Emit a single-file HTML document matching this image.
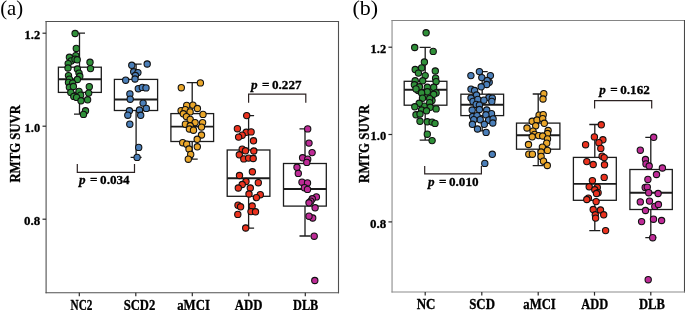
<!DOCTYPE html><html><head><meta charset="utf-8"><title>RMTG SUVR</title>
<style>html,body{margin:0;padding:0;background:#fff}svg{display:block}text{font-family:"Liberation Serif","Times New Roman",serif;fill:#000}.b{font-weight:bold;stroke:#000;stroke-width:0.3px}</style></head><body>
<svg width="685" height="310" viewBox="0 0 685 310">
<rect width="685" height="310" fill="#fff"/>
<g id="panel-a">
<g stroke-width="1.1" stroke-linecap="square"><line x1="46.1" y1="21.5" x2="46.1" y2="292.7" stroke="#505050"/><line x1="46.1" y1="21.5" x2="338.5" y2="21.5" stroke="#505050"/><line x1="338.5" y1="21.5" x2="338.5" y2="292.7" stroke="#505050"/><line x1="46.1" y1="292.7" x2="338.5" y2="292.7" stroke="#505050"/></g>
<line x1="42.5" x2="46.1" y1="33.2" y2="33.2" stroke="#2a2a2a" stroke-width="1.2"/>
<text class="b" x="24.6" y="38.85" font-size="13.4" textLength="15.6" lengthAdjust="spacingAndGlyphs">1.2</text>
<line x1="42.5" x2="46.1" y1="126.2" y2="126.2" stroke="#2a2a2a" stroke-width="1.2"/>
<text class="b" x="24.6" y="131.85" font-size="13.4" textLength="15.6" lengthAdjust="spacingAndGlyphs">1.0</text>
<line x1="42.5" x2="46.1" y1="219.2" y2="219.2" stroke="#2a2a2a" stroke-width="1.2"/>
<text class="b" x="24.0" y="224.85" font-size="13.4" textLength="16.2" lengthAdjust="spacingAndGlyphs">0.8</text>
<line x1="79.3" x2="79.3" y1="292.7" y2="296.3" stroke="#2a2a2a" stroke-width="1.2"/>
<text class="b" x="70.6" y="310.1" font-size="13.9" textLength="21.8" lengthAdjust="spacingAndGlyphs">NC2</text>
<line x1="135.8" x2="135.8" y1="292.7" y2="296.3" stroke="#2a2a2a" stroke-width="1.2"/>
<text class="b" x="123.7" y="310.1" font-size="13.9" textLength="31.6" lengthAdjust="spacingAndGlyphs">SCD2</text>
<line x1="192.3" x2="192.3" y1="292.7" y2="296.3" stroke="#2a2a2a" stroke-width="1.2"/>
<text class="b" x="177.2" y="310.1" font-size="13.9" textLength="32.7" lengthAdjust="spacingAndGlyphs">aMCI</text>
<line x1="248.8" x2="248.8" y1="292.7" y2="296.3" stroke="#2a2a2a" stroke-width="1.2"/>
<text class="b" x="234.8" y="310.1" font-size="13.9" textLength="27.7" lengthAdjust="spacingAndGlyphs">ADD</text>
<line x1="305.3" x2="305.3" y1="292.7" y2="296.3" stroke="#2a2a2a" stroke-width="1.2"/>
<text class="b" x="293.1" y="310.1" font-size="13.9" textLength="25.2" lengthAdjust="spacingAndGlyphs">DLB</text>
<text class="b" transform="translate(19.8,182.6) rotate(-90)" font-size="13.7" textLength="77.6" lengthAdjust="spacingAndGlyphs">RMTG SUVR</text>
<text x="0.2" y="14.6" font-size="22" textLength="23.0" lengthAdjust="spacingAndGlyphs">(a)</text>
<g stroke="#1c1c1c" stroke-width="1.3" fill="none">
<path d="M79.5 33.1V67.2M79.5 92.4V114.2M74.0 33.1H85.0M74.0 114.2H85.0"/>
<rect x="58.4" y="67.2" width="42.9" height="25.2" fill="#fff"/>
<line x1="58.4" x2="101.3" y1="79.2" y2="79.2" stroke-width="1.9"/>
</g>
<g fill="#2F9039" stroke="#111" stroke-width="1.1">
<circle cx="75.1" cy="33.5" r="3.15"/><circle cx="76.3" cy="48.4" r="3.15"/><circle cx="75.8" cy="55.6" r="3.15"/><circle cx="69.4" cy="57.3" r="3.15"/><circle cx="71.2" cy="60.9" r="3.15"/><circle cx="75" cy="59.2" r="3.15"/><circle cx="77.2" cy="59.8" r="3.15"/><circle cx="90" cy="62.3" r="3.15"/><circle cx="68.2" cy="63.6" r="3.15"/><circle cx="90.5" cy="68.6" r="3.15"/><circle cx="68" cy="68" r="3.15"/><circle cx="77.4" cy="69" r="3.15"/><circle cx="79" cy="73.1" r="3.15"/><circle cx="68.5" cy="75.6" r="3.15"/><circle cx="79.8" cy="76.3" r="3.15"/><circle cx="77.4" cy="79.5" r="3.15"/><circle cx="69.4" cy="79.2" r="3.15"/><circle cx="68.5" cy="82.4" r="3.15"/><circle cx="72.6" cy="83.2" r="3.15"/><circle cx="69.4" cy="87.3" r="3.15"/><circle cx="73.4" cy="86.5" r="3.15"/><circle cx="89.3" cy="86.7" r="3.15"/><circle cx="79" cy="91.4" r="3.15"/><circle cx="70.8" cy="92.4" r="3.15"/><circle cx="88.7" cy="93.1" r="3.15"/><circle cx="73.8" cy="96.4" r="3.15"/><circle cx="80.6" cy="95.2" r="3.15"/><circle cx="76.6" cy="97.4" r="3.15"/><circle cx="87.6" cy="99.8" r="3.15"/><circle cx="81" cy="100.8" r="3.15"/><circle cx="85.5" cy="110.8" r="3.15"/><circle cx="83.5" cy="114.4" r="3.15"/>
</g>
<g stroke="#1c1c1c" stroke-width="1.3" fill="none">
<path d="M136.1 64.2V79.4M136.1 110.5V157.4M130.6 64.2H141.6M130.6 157.4H141.6"/>
<rect x="114.4" y="79.4" width="43.2" height="31.1" fill="#fff"/>
<line x1="114.4" x2="157.6" y1="99.5" y2="99.5" stroke-width="1.9"/>
</g>
<g fill="#4B7FB9" stroke="#111" stroke-width="1.1">
<circle cx="131.8" cy="65.3" r="3.15"/><circle cx="147.2" cy="64" r="3.15"/><circle cx="133.7" cy="71.8" r="3.15"/><circle cx="137.9" cy="72.6" r="3.15"/><circle cx="135.4" cy="75.5" r="3.15"/><circle cx="135" cy="79" r="3.15"/><circle cx="125.7" cy="80.2" r="3.15"/><circle cx="138.3" cy="88.7" r="3.15"/><circle cx="142.3" cy="87.4" r="3.15"/><circle cx="146" cy="87.9" r="3.15"/><circle cx="129.9" cy="93.9" r="3.15"/><circle cx="130.2" cy="99.2" r="3.15"/><circle cx="143.1" cy="103.1" r="3.15"/><circle cx="146.3" cy="108.4" r="3.15"/><circle cx="139.5" cy="110" r="3.15"/><circle cx="129.4" cy="110.8" r="3.15"/><circle cx="127.8" cy="115.2" r="3.15"/><circle cx="140.7" cy="115.3" r="3.15"/><circle cx="129.8" cy="124.2" r="3.15"/><circle cx="138.7" cy="147.4" r="3.15"/><circle cx="137.1" cy="157.4" r="3.15"/>
</g>
<g stroke="#1c1c1c" stroke-width="1.3" fill="none">
<path d="M192.2 82.6V113.6M192.2 141.5V159.2M186.7 82.6H197.7M186.7 159.2H197.7"/>
<rect x="170.9" y="113.6" width="42.7" height="27.9" fill="#fff"/>
<line x1="170.9" x2="213.6" y1="126.6" y2="126.6" stroke-width="1.9"/>
</g>
<g fill="#EAA72B" stroke="#111" stroke-width="1.1">
<circle cx="200.4" cy="82.9" r="3.15"/><circle cx="181.3" cy="87.7" r="3.15"/><circle cx="186.7" cy="105.4" r="3.15"/><circle cx="192.9" cy="105.1" r="3.15"/><circle cx="197.4" cy="108.5" r="3.15"/><circle cx="181.1" cy="110.7" r="3.15"/><circle cx="185.2" cy="109.6" r="3.15"/><circle cx="190.1" cy="111.9" r="3.15"/><circle cx="203" cy="114.4" r="3.15"/><circle cx="183.3" cy="113.8" r="3.15"/><circle cx="186.4" cy="116.6" r="3.15"/><circle cx="190.2" cy="119.4" r="3.15"/><circle cx="195.1" cy="122.6" r="3.15"/><circle cx="202.6" cy="122.6" r="3.15"/><circle cx="185.4" cy="124.2" r="3.15"/><circle cx="190.2" cy="125.8" r="3.15"/><circle cx="201.5" cy="127.1" r="3.15"/><circle cx="189.4" cy="129" r="3.15"/><circle cx="193.5" cy="130.2" r="3.15"/><circle cx="201.5" cy="135" r="3.15"/><circle cx="197.2" cy="139.3" r="3.15"/><circle cx="182.7" cy="142.7" r="3.15"/><circle cx="186.7" cy="144.2" r="3.15"/><circle cx="197.3" cy="146.8" r="3.15"/><circle cx="189" cy="149" r="3.15"/><circle cx="190.7" cy="154.4" r="3.15"/><circle cx="188.3" cy="159.2" r="3.15"/>
</g>
<g stroke="#1c1c1c" stroke-width="1.3" fill="none">
<path d="M248.6 115.6V150M248.6 196.3V228.2M243.1 115.6H254.1M243.1 228.2H254.1"/>
<rect x="227.2" y="150" width="42.7" height="46.3" fill="#fff"/>
<line x1="227.2" x2="269.9" y1="178.2" y2="178.2" stroke-width="1.9"/>
</g>
<g fill="#EB321E" stroke="#111" stroke-width="1.1">
<circle cx="246.7" cy="115.6" r="3.15"/><circle cx="237.4" cy="128.7" r="3.15"/><circle cx="246.2" cy="132.3" r="3.15"/><circle cx="251.1" cy="131.9" r="3.15"/><circle cx="242.2" cy="135.2" r="3.15"/><circle cx="238.6" cy="137.1" r="3.15"/><circle cx="253.5" cy="140.8" r="3.15"/><circle cx="242.2" cy="149.2" r="3.15"/><circle cx="245.5" cy="150.8" r="3.15"/><circle cx="253.8" cy="151" r="3.15"/><circle cx="239.3" cy="154.8" r="3.15"/><circle cx="243.8" cy="158.9" r="3.15"/><circle cx="248.6" cy="158.1" r="3.15"/><circle cx="253.2" cy="158.5" r="3.15"/><circle cx="252.4" cy="171.8" r="3.15"/><circle cx="239.5" cy="175.5" r="3.15"/><circle cx="246" cy="181.5" r="3.15"/><circle cx="258.3" cy="182.7" r="3.15"/><circle cx="242.2" cy="184.5" r="3.15"/><circle cx="238.3" cy="188" r="3.15"/><circle cx="250.3" cy="188" r="3.15"/><circle cx="249" cy="194" r="3.15"/><circle cx="260.3" cy="194.7" r="3.15"/><circle cx="256.4" cy="197.6" r="3.15"/><circle cx="238" cy="205.2" r="3.15"/><circle cx="240.6" cy="206.8" r="3.15"/><circle cx="252.2" cy="206" r="3.15"/><circle cx="251" cy="211.6" r="3.15"/><circle cx="255.5" cy="211.8" r="3.15"/><circle cx="237.8" cy="214.4" r="3.15"/><circle cx="245.7" cy="228" r="3.15"/>
</g>
<g stroke="#1c1c1c" stroke-width="1.3" fill="none">
<path d="M305.0 128.8V163.5M305.0 206.1V236M299.5 128.8H310.5M299.5 236H310.5"/>
<rect x="283.5" y="163.5" width="42.8" height="42.6" fill="#fff"/>
<line x1="283.5" x2="326.3" y1="189" y2="189" stroke-width="1.9"/>
</g>
<g fill="#BE2B97" stroke="#111" stroke-width="1.1">
<circle cx="307.7" cy="128.9" r="3.15"/><circle cx="309" cy="143.1" r="3.15"/><circle cx="312.1" cy="152.6" r="3.15"/><circle cx="302.6" cy="157.8" r="3.15"/><circle cx="307.7" cy="159.2" r="3.15"/><circle cx="306.8" cy="162.4" r="3.15"/><circle cx="297" cy="167.3" r="3.15"/><circle cx="298.3" cy="173.4" r="3.15"/><circle cx="302" cy="182.2" r="3.15"/><circle cx="307.5" cy="182.9" r="3.15"/><circle cx="304.4" cy="187.7" r="3.15"/><circle cx="307.5" cy="189.4" r="3.15"/><circle cx="316.4" cy="196.9" r="3.15"/><circle cx="312.3" cy="198.8" r="3.15"/><circle cx="310.8" cy="201.2" r="3.15"/><circle cx="309" cy="202.8" r="3.15"/><circle cx="315.1" cy="207.8" r="3.15"/><circle cx="312.7" cy="218" r="3.15"/><circle cx="309" cy="216.2" r="3.15"/><circle cx="314.2" cy="236.2" r="3.15"/><circle cx="314.8" cy="280.5" r="3.15"/>
</g>
<path d="M77.3 164.0V172.3H134.5V164.0" fill="none" stroke="#2c2222" stroke-width="1.2"/>
<g transform="translate(78.6,183.7) scale(0.975,1)"><text class="b" font-size="13.5"><tspan x="0.51" y="0" font-style="italic">p</tspan><tspan x="11.79" y="0">=</tspan><tspan x="22.05" y="0">0.034</tspan></text></g>
<path d="M248.6 102.8V94.1H305.8V102.8" fill="none" stroke="#2c2222" stroke-width="1.2"/>
<g transform="translate(250.5,88.9) scale(0.975,1)"><text class="b" font-size="13.5"><tspan x="0.51" y="0" font-style="italic">p</tspan><tspan x="11.79" y="0">=</tspan><tspan x="22.05" y="0">0.227</tspan></text></g>
</g>
<g id="panel-b">
<g stroke-width="1.1" stroke-linecap="square"><line x1="392.05" y1="20.5" x2="392.05" y2="292.0" stroke="#8c8c8c"/><line x1="392.05" y1="20.5" x2="684.5" y2="20.5" stroke="#858585"/><line x1="684.5" y1="20.5" x2="684.5" y2="292.0" stroke="#484848"/><line x1="392.05" y1="292.0" x2="684.5" y2="292.0" stroke="#8c8c8c"/></g>
<line x1="388.4" x2="392.05" y1="47.2" y2="47.2" stroke="#2a2a2a" stroke-width="1.2"/>
<text class="b" x="370.6" y="52.85" font-size="13.4" textLength="15.6" lengthAdjust="spacingAndGlyphs">1.2</text>
<line x1="388.4" x2="392.05" y1="134.5" y2="134.5" stroke="#2a2a2a" stroke-width="1.2"/>
<text class="b" x="370.6" y="140.15" font-size="13.4" textLength="15.6" lengthAdjust="spacingAndGlyphs">1.0</text>
<line x1="388.4" x2="392.05" y1="221.9" y2="221.9" stroke="#2a2a2a" stroke-width="1.2"/>
<text class="b" x="370.0" y="227.55" font-size="13.4" textLength="16.2" lengthAdjust="spacingAndGlyphs">0.8</text>
<line x1="425.2" x2="425.2" y1="292.0" y2="295.6" stroke="#2a2a2a" stroke-width="1.2"/>
<text class="b" x="416.7" y="308.9" font-size="13.9" textLength="18.8" lengthAdjust="spacingAndGlyphs">NC</text>
<line x1="481.8" x2="481.8" y1="292.0" y2="295.6" stroke="#2a2a2a" stroke-width="1.2"/>
<text class="b" x="469.2" y="308.9" font-size="13.9" textLength="25.8" lengthAdjust="spacingAndGlyphs">SCD</text>
<line x1="538.2" x2="538.2" y1="292.0" y2="295.6" stroke="#2a2a2a" stroke-width="1.2"/>
<text class="b" x="523.3" y="308.9" font-size="13.9" textLength="32.5" lengthAdjust="spacingAndGlyphs">aMCI</text>
<line x1="594.5" x2="594.5" y1="292.0" y2="295.6" stroke="#2a2a2a" stroke-width="1.2"/>
<text class="b" x="581.3" y="308.9" font-size="13.9" textLength="26.9" lengthAdjust="spacingAndGlyphs">ADD</text>
<line x1="650.8" x2="650.8" y1="292.0" y2="295.6" stroke="#2a2a2a" stroke-width="1.2"/>
<text class="b" x="638.9" y="308.9" font-size="13.9" textLength="25.9" lengthAdjust="spacingAndGlyphs">DLB</text>
<text class="b" transform="translate(368.9,182.9) rotate(-90)" font-size="13.7" textLength="78.2" lengthAdjust="spacingAndGlyphs">RMTG SUVR</text>
<text x="352.4" y="14.5" font-size="22" textLength="25.6" lengthAdjust="spacingAndGlyphs">(b)</text>
<g stroke="#1c1c1c" stroke-width="1.3" fill="none">
<path d="M425.2 47.3V81.3M425.2 105.2V140.2M419.7 47.3H430.7M419.7 140.2H430.7"/>
<rect x="404.2" y="81.3" width="42.7" height="23.9" fill="#fff"/>
<line x1="404.2" x2="446.9" y1="89.8" y2="89.8" stroke-width="1.9"/>
</g>
<g fill="#2F9039" stroke="#111" stroke-width="1.1">
<circle cx="426.1" cy="32.8" r="3.15"/><circle cx="414.7" cy="47.5" r="3.15"/><circle cx="433.2" cy="51.4" r="3.15"/><circle cx="435.6" cy="78.2" r="3.15"/><circle cx="418.2" cy="90.5" r="3.15"/><circle cx="425" cy="96" r="3.15"/><circle cx="431.8" cy="90.2" r="3.15"/><circle cx="432" cy="100.5" r="3.15"/><circle cx="424.3" cy="106.2" r="3.15"/><circle cx="424.4" cy="62" r="3.15"/><circle cx="421.6" cy="67.9" r="3.15"/><circle cx="415.2" cy="69.5" r="3.15"/><circle cx="418.4" cy="73.1" r="3.15"/><circle cx="435.3" cy="71" r="3.15"/><circle cx="425.2" cy="75.6" r="3.15"/><circle cx="415.2" cy="80.8" r="3.15"/><circle cx="422.7" cy="80.8" r="3.15"/><circle cx="436.1" cy="81.6" r="3.15"/><circle cx="414.4" cy="84.8" r="3.15"/><circle cx="419.4" cy="86.8" r="3.15"/><circle cx="427.3" cy="87.3" r="3.15"/><circle cx="433.7" cy="87.3" r="3.15"/><circle cx="416" cy="88.9" r="3.15"/><circle cx="427.3" cy="91.8" r="3.15"/><circle cx="421.6" cy="92.9" r="3.15"/><circle cx="436.1" cy="92.9" r="3.15"/><circle cx="433.7" cy="94.3" r="3.15"/><circle cx="422.5" cy="98.2" r="3.15"/><circle cx="429.7" cy="98.6" r="3.15"/><circle cx="419.2" cy="103.3" r="3.15"/><circle cx="429.7" cy="102.7" r="3.15"/><circle cx="414.8" cy="106.8" r="3.15"/><circle cx="430.2" cy="107.3" r="3.15"/><circle cx="436.1" cy="108.9" r="3.15"/><circle cx="421.6" cy="110" r="3.15"/><circle cx="426.5" cy="110.8" r="3.15"/><circle cx="416" cy="114.8" r="3.15"/><circle cx="420" cy="114" r="3.15"/><circle cx="420" cy="121.3" r="3.15"/><circle cx="427.3" cy="121.8" r="3.15"/><circle cx="432.1" cy="122.1" r="3.15"/><circle cx="435" cy="123.4" r="3.15"/><circle cx="427.3" cy="134.2" r="3.15"/><circle cx="432.1" cy="140.6" r="3.15"/>
</g>
<g stroke="#1c1c1c" stroke-width="1.3" fill="none">
<path d="M482.2 71.6V94.2M482.2 115.6V130.8M476.7 71.6H487.7M476.7 130.8H487.7"/>
<rect x="460.9" y="94.2" width="42.7" height="21.4" fill="#fff"/>
<line x1="460.9" x2="503.6" y1="104.8" y2="104.8" stroke-width="1.9"/>
</g>
<g fill="#4B7FB9" stroke="#111" stroke-width="1.1">
<circle cx="489.2" cy="82.3" r="3.15"/><circle cx="479.4" cy="71.6" r="3.15"/><circle cx="470.9" cy="75.6" r="3.15"/><circle cx="490.4" cy="75.6" r="3.15"/><circle cx="481.8" cy="77.6" r="3.15"/><circle cx="487.2" cy="80.5" r="3.15"/><circle cx="486.7" cy="84.5" r="3.15"/><circle cx="481.2" cy="86.8" r="3.15"/><circle cx="471" cy="89.1" r="3.15"/><circle cx="474.6" cy="90.5" r="3.15"/><circle cx="476.5" cy="95" r="3.15"/><circle cx="471" cy="98" r="3.15"/><circle cx="488.9" cy="97.5" r="3.15"/><circle cx="492.3" cy="98.2" r="3.15"/><circle cx="473" cy="101.4" r="3.15"/><circle cx="477.8" cy="99.4" r="3.15"/><circle cx="483.9" cy="100.2" r="3.15"/><circle cx="491.8" cy="101.4" r="3.15"/><circle cx="476.2" cy="104.4" r="3.15"/><circle cx="479.4" cy="105.2" r="3.15"/><circle cx="472.2" cy="110" r="3.15"/><circle cx="479.4" cy="109.5" r="3.15"/><circle cx="486.7" cy="110" r="3.15"/><circle cx="491.5" cy="113.7" r="3.15"/><circle cx="485.9" cy="114.8" r="3.15"/><circle cx="472.6" cy="116.5" r="3.15"/><circle cx="477" cy="115.6" r="3.15"/><circle cx="480.2" cy="119.7" r="3.15"/><circle cx="473.8" cy="119.7" r="3.15"/><circle cx="488.6" cy="120.2" r="3.15"/><circle cx="493.1" cy="118.9" r="3.15"/><circle cx="472.4" cy="124.3" r="3.15"/><circle cx="484.3" cy="124.3" r="3.15"/><circle cx="492.8" cy="123" r="3.15"/><circle cx="477.5" cy="129" r="3.15"/><circle cx="486.1" cy="132.4" r="3.15"/><circle cx="492.3" cy="154.3" r="3.15"/><circle cx="484.8" cy="163.4" r="3.15"/>
</g>
<g stroke="#1c1c1c" stroke-width="1.3" fill="none">
<path d="M538.2 94V123.1M538.2 149.2V165.6M532.7 94H543.7M532.7 165.6H543.7"/>
<rect x="516.5" y="123.1" width="43.4" height="26.1" fill="#fff"/>
<line x1="516.5" x2="559.9" y1="135.2" y2="135.2" stroke-width="1.9"/>
</g>
<g fill="#EAA72B" stroke="#111" stroke-width="1.1">
<circle cx="543.8" cy="93.7" r="3.15"/><circle cx="543" cy="99" r="3.15"/><circle cx="539.1" cy="115.2" r="3.15"/><circle cx="543.2" cy="114.7" r="3.15"/><circle cx="532.2" cy="121.3" r="3.15"/><circle cx="537" cy="120" r="3.15"/><circle cx="542.7" cy="118.7" r="3.15"/><circle cx="544.3" cy="123.3" r="3.15"/><circle cx="535.7" cy="125.8" r="3.15"/><circle cx="527" cy="128" r="3.15"/><circle cx="548.1" cy="130.5" r="3.15"/><circle cx="533" cy="131.1" r="3.15"/><circle cx="534.6" cy="134.4" r="3.15"/><circle cx="547.5" cy="133.5" r="3.15"/><circle cx="532.2" cy="136.8" r="3.15"/><circle cx="538.6" cy="135.6" r="3.15"/><circle cx="542.7" cy="136" r="3.15"/><circle cx="547.5" cy="138.9" r="3.15"/><circle cx="546.7" cy="143.2" r="3.15"/><circle cx="528.5" cy="144.5" r="3.15"/><circle cx="542.4" cy="147.1" r="3.15"/><circle cx="547.5" cy="150.4" r="3.15"/><circle cx="541.1" cy="152" r="3.15"/><circle cx="528.8" cy="154.2" r="3.15"/><circle cx="532.4" cy="154.2" r="3.15"/><circle cx="541.1" cy="156.4" r="3.15"/><circle cx="543.5" cy="161.2" r="3.15"/><circle cx="547.3" cy="165.5" r="3.15"/>
</g>
<g stroke="#1c1c1c" stroke-width="1.3" fill="none">
<path d="M594.8 124.5V157.4M594.8 200.3V230.6M589.3 124.5H600.3M589.3 230.6H600.3"/>
<rect x="573.4" y="157.4" width="42.9" height="42.9" fill="#fff"/>
<line x1="573.4" x2="616.3" y1="183.9" y2="183.9" stroke-width="1.9"/>
</g>
<g fill="#EB321E" stroke="#111" stroke-width="1.1">
<circle cx="601.3" cy="124.8" r="3.15"/><circle cx="594.4" cy="136.9" r="3.15"/><circle cx="602.9" cy="139.8" r="3.15"/><circle cx="598.9" cy="142.7" r="3.15"/><circle cx="585.6" cy="144.7" r="3.15"/><circle cx="600.8" cy="148.4" r="3.15"/><circle cx="602.1" cy="156.2" r="3.15"/><circle cx="604.2" cy="157.6" r="3.15"/><circle cx="586.8" cy="161.6" r="3.15"/><circle cx="593.2" cy="164.5" r="3.15"/><circle cx="604.5" cy="164.8" r="3.15"/><circle cx="604.2" cy="177.4" r="3.15"/><circle cx="592.4" cy="180.6" r="3.15"/><circle cx="589.2" cy="186.8" r="3.15"/><circle cx="597.3" cy="187.4" r="3.15"/><circle cx="594.8" cy="189.8" r="3.15"/><circle cx="598.1" cy="192.7" r="3.15"/><circle cx="596.5" cy="193.5" r="3.15"/><circle cx="588.4" cy="198.1" r="3.15"/><circle cx="586.8" cy="199.5" r="3.15"/><circle cx="596.1" cy="201.6" r="3.15"/><circle cx="593.2" cy="209.5" r="3.15"/><circle cx="600.5" cy="210" r="3.15"/><circle cx="603.7" cy="214.8" r="3.15"/><circle cx="595.3" cy="214.8" r="3.15"/><circle cx="595.6" cy="218.1" r="3.15"/><circle cx="605.6" cy="230.6" r="3.15"/>
</g>
<g stroke="#1c1c1c" stroke-width="1.3" fill="none">
<path d="M650.8 137.3V169.5M650.8 209.5V237.7M645.3 137.3H656.3M645.3 237.7H656.3"/>
<rect x="629.9" y="169.5" width="42.4" height="40.0" fill="#fff"/>
<line x1="629.9" x2="672.3" y1="192.8" y2="192.8" stroke-width="1.9"/>
</g>
<g fill="#BE2B97" stroke="#111" stroke-width="1.1">
<circle cx="653.7" cy="137.3" r="3.15"/><circle cx="640.3" cy="150.2" r="3.15"/><circle cx="645.5" cy="159.5" r="3.15"/><circle cx="646" cy="163.9" r="3.15"/><circle cx="649.2" cy="166" r="3.15"/><circle cx="662.4" cy="168" r="3.15"/><circle cx="656.5" cy="174.5" r="3.15"/><circle cx="647.9" cy="179.4" r="3.15"/><circle cx="645.2" cy="187.4" r="3.15"/><circle cx="647.3" cy="187.1" r="3.15"/><circle cx="648.7" cy="192.7" r="3.15"/><circle cx="658.1" cy="193.5" r="3.15"/><circle cx="640.3" cy="201.9" r="3.15"/><circle cx="649.5" cy="201.1" r="3.15"/><circle cx="654.8" cy="206.4" r="3.15"/><circle cx="658.4" cy="204.5" r="3.15"/><circle cx="645.5" cy="210.5" r="3.15"/><circle cx="653.5" cy="219.2" r="3.15"/><circle cx="641.6" cy="221.6" r="3.15"/><circle cx="661.6" cy="220.5" r="3.15"/><circle cx="652.7" cy="237.7" r="3.15"/><circle cx="648.2" cy="279.7" r="3.15"/>
</g>
<path d="M424.7 166.0V173.9H481.4V166.0" fill="none" stroke="#2c2222" stroke-width="1.2"/>
<g transform="translate(427.5,185.7) scale(0.975,1)"><text class="b" font-size="13.5"><tspan x="0.51" y="0" font-style="italic">p</tspan><tspan x="11.79" y="0">=</tspan><tspan x="22.05" y="0">0.010</tspan></text></g>
<path d="M594.6 108.5V100.6H651.7V108.5" fill="none" stroke="#2c2222" stroke-width="1.2"/>
<g transform="translate(598.7,94.4) scale(0.975,1)"><text class="b" font-size="13.5"><tspan x="0.51" y="0" font-style="italic">p</tspan><tspan x="11.79" y="0">=</tspan><tspan x="22.05" y="0">0.162</tspan></text></g>
</g>
</svg></body></html>
